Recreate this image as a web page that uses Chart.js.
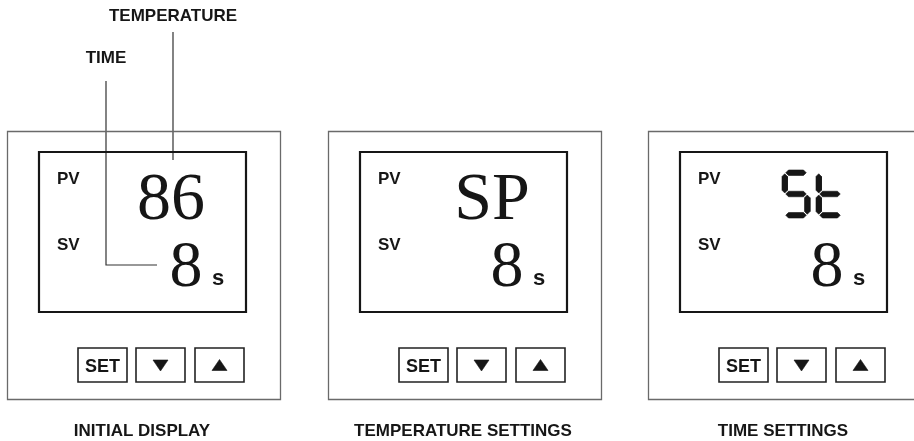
<!DOCTYPE html>
<html><head><meta charset="utf-8">
<script src="https://cdn.jsdelivr.net/npm/chart.js@4.4.1/dist/chart.umd.min.js"></script>
<style>html,body{margin:0;padding:0;background:#fff;overflow:hidden}#wrap{width:914px;height:441px}</style>
</head><body><div id="wrap"><canvas id="c" width="914" height="441"></canvas></div>
<script>
// ---- content ----
const panelCaptions = ['INITIAL DISPLAY', 'TEMPERATURE SETTINGS', 'TIME SETTINGS'];
const pvReadings = ['86', 'SP', 'St'];          // 'St' is shown as 7-segment glyphs
const svReadings = ['8', '8', '8'];
const svUnits = ['s', 's', 's'];
const rowLabels = ['PV', 'SV'];
const buttonLabels = ['SET', 'down', 'up'];
const calloutLabels = ['TEMPERATURE', 'TIME'];
const segmentCodes = { S: ['a', 'f', 'g', 'c', 'd'], t: ['f', 'e', 'g', 'd'] };
const segmentPanels = [false, false, true];

// ---- layout (diagram units = pixels of the 914x441 sheet) ----
const SHEET_W = 914, SHEET_H = 441;
const panelLeft = [7, 328, 648];
const panelW = 273, panelTop = 131, panelBottom = 399;
const screenX = [32, 239], screenY = [152, 312];
const buttonX = [[71, 120], [129, 178], [188, 237]], buttonY = [348, 382];
const pvLabelPos = [50, 183.5], svLabelPos = [50, 250];
const pvReadingPos = [164, 219], svReadingPos = [179, 286], unitPos = [205, 285];
const captionPos = [135, 436];
const calloutText = [[173, 21], [106, 63]];
const calloutLines = [
  [[173, 32], [173, 160]],
  [[106, 81], [106, 265], [157, 265]]
];
const glyph = { w: 28, h: 48, t: 5.5, gap: 6, top: 170, left: 134 };

const INK = '#161616';

function pt(x, y) { return { x, y }; }
function lineDs(points, color, width, extra) {
  return Object.assign({
    data: points, borderColor: color, borderWidth: width, pointRadius: 0,
    fill: false, tension: 0, borderJoinStyle: 'miter', borderCapStyle: 'square', clip: false
  }, extra || {});
}
function rectDs(x1, y1, x2, y2, color, width) {
  return lineDs([pt(x1, y1), pt(x2, y1), pt(x2, y2), pt(x1, y2), pt(x1, y1)], color, width);
}
function polyDs(points, color) {
  const closed = points.concat([points[0]]);
  return lineDs(closed, color, 0.6, { fill: 'shape', backgroundColor: color, borderCapStyle: 'butt' });
}

const datasets = [];
panelLeft.forEach((L, i) => {
  datasets.push(rectDs(L + 0.5, panelTop + 0.5, L + panelW + 0.5, panelBottom + 0.5, '#6a6a6a', 1.3));
  datasets.push(rectDs(L + screenX[0], panelTop + 0 + (screenY[0] - panelTop), L + screenX[1], screenY[1], INK, 2.2));
  buttonX.forEach((bx, j) => {
    datasets.push(rectDs(L + bx[0], buttonY[0], L + bx[1], buttonY[1], '#222', 1.6));
    const cx = L + (bx[0] + bx[1]) / 2, cy = (buttonY[0] + buttonY[1]) / 2;
    if (buttonLabels[j] === 'down') datasets.push(polyDs([pt(cx - 7.5, cy - 5), pt(cx + 7.5, cy - 5), pt(cx, cy + 6)], INK));
    if (buttonLabels[j] === 'up') datasets.push(polyDs([pt(cx - 7.5, cy + 5.5), pt(cx + 7.5, cy + 5.5), pt(cx, cy - 5.5)], INK));
  });
  if (segmentPanels[i]) {
    const chars = pvReadings[i].split('');
    chars.forEach((ch, k) => {
      const gx = L + glyph.left + k * (glyph.w + glyph.gap), gy = glyph.top;
      const t = glyph.t, h2 = t / 2, W = glyph.w, H = glyph.h;
      const horiz = (x1, x2, y) => [pt(x1, y), pt(x1 + h2, y - h2), pt(x2 - h2, y - h2), pt(x2, y), pt(x2 - h2, y + h2), pt(x1 + h2, y + h2)];
      const vert = (y1, y2, x) => [pt(x, y1), pt(x + h2, y1 + h2), pt(x + h2, y2 - h2), pt(x, y2), pt(x - h2, y2 - h2), pt(x - h2, y1 + h2)];
      const segs = {
        a: horiz(gx + h2 + 1, gx + W - h2 - 1, gy + h2),
        g: horiz(gx + h2 + 1, gx + W - h2 - 1, gy + H / 2),
        d: horiz(gx + h2 + 1, gx + W - h2 - 1, gy + H - h2),
        f: vert(gy + h2 + 1, gy + H / 2 - 1, gx + h2),
        b: vert(gy + h2 + 1, gy + H / 2 - 1, gx + W - h2),
        e: vert(gy + H / 2 + 1, gy + H - h2 - 1, gx + h2),
        c: vert(gy + H / 2 + 1, gy + H - h2 - 1, gx + W - h2)
      };
      (segmentCodes[ch] || []).forEach(s => datasets.push(polyDs(segs[s], INK)));
    });
  }
});
calloutLines.forEach(pts => datasets.push(lineDs(pts.map(p => pt(p[0], p[1])), '#333', 1.2, { borderCapStyle: 'butt' })));

const textPlugin = {
  id: 'diagramText',
  afterDatasetsDraw(chart) {
    const ctx = chart.ctx, xs = chart.scales.x, ys = chart.scales.y;
    const X = v => xs.getPixelForValue(v), Y = v => ys.getPixelForValue(v);
    const sans = 'bold 17px "Liberation Sans", Arial, sans-serif';
    function txt(s, x, y, font, align) {
      ctx.font = font; ctx.fillStyle = INK; ctx.textAlign = align || 'center'; ctx.textBaseline = 'alphabetic';
      ctx.fillText(s, X(x), Y(y));
    }
    ctx.save();
    calloutLabels.forEach((s, i) => txt(s, calloutText[i][0], calloutText[i][1], sans));
    panelLeft.forEach((L, i) => {
      txt(rowLabels[0], L + pvLabelPos[0], pvLabelPos[1], sans, 'left');
      txt(rowLabels[1], L + svLabelPos[0], svLabelPos[1], sans, 'left');
      if (!segmentPanels[i]) txt(pvReadings[i], L + pvReadingPos[0], pvReadingPos[1], '68px "Liberation Serif", "Times New Roman", serif');
      txt(svReadings[i], L + svReadingPos[0], svReadingPos[1], '66px "Liberation Serif", "Times New Roman", serif');
      txt(svUnits[i], L + unitPos[0], unitPos[1], 'bold 22px "Liberation Sans", Arial, sans-serif', 'left');
      txt(buttonLabels[0], L + (buttonX[0][0] + buttonX[0][1]) / 2, (buttonY[0] + buttonY[1]) / 2 + 6.5, 'bold 18px "Liberation Sans", Arial, sans-serif');
      txt(panelCaptions[i], L + captionPos[0], captionPos[1], sans);
    });
    ctx.restore();
  }
};

new Chart(document.getElementById('c'), {
  type: 'line',
  data: { datasets },
  options: {
    responsive: false, devicePixelRatio: 1, animation: false,
    layout: { padding: 0 },
    scales: {
      x: { type: 'linear', min: 0, max: SHEET_W, display: false },
      y: { type: 'linear', min: 0, max: SHEET_H, reverse: true, display: false }
    },
    plugins: { legend: { display: false }, tooltip: { enabled: false }, title: { display: false } },
    events: []
  },
  plugins: [textPlugin]
});
</script>
</body></html>
